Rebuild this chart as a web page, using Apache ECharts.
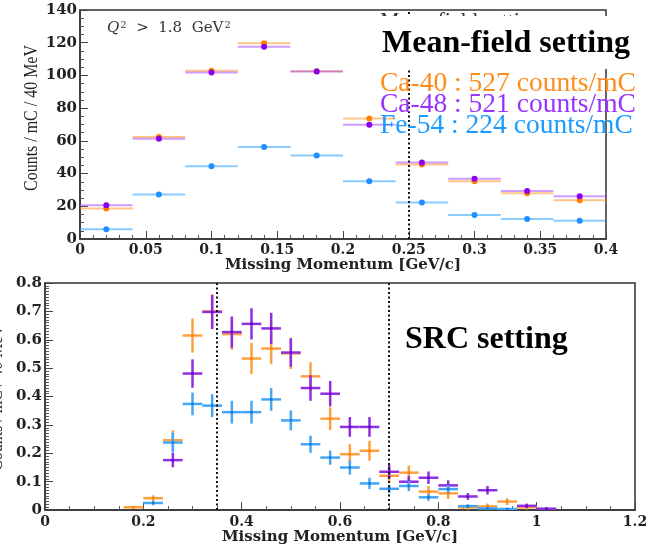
<!DOCTYPE html>
<html><head><meta charset="utf-8">
<script src="https://cdn.jsdelivr.net/npm/echarts@6/dist/echarts.min.js"></script>
<style>html,body{margin:0;padding:0;background:#fff}#c{width:664px;height:546px}</style>
</head><body><div id="c"></div>
<script>
// ---------- DATA ----------
// Mean-field setting (top panel): bin centers [GeV/c], counts / mC / 40 MeV
const topBins   = [0.02, 0.06, 0.10, 0.14, 0.18, 0.22, 0.26, 0.30, 0.34, 0.38];
const topBinHalf = 0.02;
const topCa40 = [18.7, 62.3, 102.9, 119.7, 102.6, 73.6, 45.6, 35.3, 28.0, 23.7];
const topCa48 = [20.7, 61.3, 101.8, 117.5, 102.4, 69.8, 46.7, 36.9, 29.4, 26.2];
const topFe54 = [5.9, 27.2, 44.4, 56.2, 51.1, 35.3, 22.3, 14.6, 12.2, 11.1];
const topCut = 0.25;

// SRC setting (bottom panel)
const botBins = [0.18, 0.22, 0.26, 0.30, 0.34, 0.38, 0.42, 0.46, 0.50, 0.54, 0.58,
                 0.62, 0.66, 0.70, 0.74, 0.78, 0.82, 0.86, 0.90, 0.94, 0.98, 1.02];
const botBinHalf = 0.02;
const botCa40    = [0.010, 0.042, 0.246, 0.615, 0.700, 0.620, 0.534, 0.569, 0.552, 0.471, 0.322,
                    0.197, 0.209, 0.121, 0.132, 0.065, 0.059, 0.010, 0.013, 0.030, 0.010, null];
const botCa40Err = [0.005, 0.010, 0.035, 0.060, 0.060, 0.055, 0.055, 0.055, 0.055, 0.050, 0.040,
                    0.035, 0.035, 0.025, 0.025, 0.020, 0.020, 0.008, 0.010, 0.012, 0.008, null];
const botCa48    = [null, null, 0.176, 0.481, 0.698, 0.627, 0.656, 0.640, 0.555, 0.430, 0.410,
                    0.293, 0.293, 0.135, 0.100, 0.114, 0.087, 0.048, 0.070, null, 0.015, 0.005];
const botCa48Err = [null, null, 0.025, 0.050, 0.060, 0.055, 0.055, 0.055, 0.050, 0.045, 0.045,
                    0.035, 0.035, 0.025, 0.020, 0.022, 0.018, 0.012, 0.015, null, 0.008, 0.005];
const botFe54    = [null, 0.025, 0.238, 0.374, 0.368, 0.345, 0.345, 0.390, 0.316, 0.232, 0.185,
                    0.150, 0.094, 0.075, 0.085, 0.045, 0.074, 0.014, 0.006, 0.004, null, null];
const botFe54Err = [null, 0.008, 0.035, 0.040, 0.040, 0.040, 0.040, 0.040, 0.035, 0.030, 0.025,
                    0.025, 0.020, 0.015, 0.018, 0.012, 0.015, 0.006, 0.005, 0.004, null, null];
const botCuts = [0.35, 0.70];

const legendLines = ['Ca-40 : 527 counts/mC', 'Ca-48 : 521 counts/mC', 'Fe-54 : 224 counts/mC'];

// ---------- STYLE ----------
const C = {
  ca40: '#ff8c1a', ca48: '#9933ff', fe54: '#1a9bff',
  ca40Bar: 'rgba(255,150,40,0.55)', ca48Bar: 'rgba(160,60,255,0.5)', fe54Bar: 'rgba(40,160,255,0.55)',
  ca40X: '#ffa040', ca48X: '#8e2fe0', fe54X: '#44a6f5',
  ca40Dot: '#ff8000', ca48Dot: '#8a00f0', fe54Dot: '#1e90ff'
};
const numFont = 'DejaVu Serif';

function build(bins, vals, errs, half) {
  const out = [];
  for (let i = 0; i < bins.length; i++) {
    if (vals[i] == null) continue;
    out.push([bins[i], vals[i], half, errs ? errs[i] : 0]);
  }
  return out;
}

function crossRender(color, width, dotColor, dotR) {
  return function (params, api) {
    const x = api.value(0), y = api.value(1), hw = api.value(2), e = api.value(3);
    const l = api.coord([x - hw, y]), r = api.coord([x + hw, y]);
    const children = [{
      type: 'line', shape: { x1: l[0], y1: l[1], x2: r[0], y2: r[1] },
      style: { stroke: color, lineWidth: width }
    }];
    if (e > 0) {
      const t = api.coord([x, y + e]), b = api.coord([x, y - e]);
      children.push({ type: 'line', shape: { x1: t[0], y1: t[1], x2: b[0], y2: b[1] },
        style: { stroke: color, lineWidth: width } });
    }
    if (dotR) {
      const c = api.coord([x, y]);
      children.push({ type: 'circle', shape: { cx: c[0], cy: c[1], r: dotR }, style: { fill: dotColor } });
    }
    return { type: 'group', children };
  };
}

function errSeries(name, gi, data, color, width, dotColor, dotR, z) {
  return {
    name, type: 'custom', xAxisIndex: gi, yAxisIndex: gi, z: z || 2,
    renderItem: crossRender(color, width, dotColor, dotR),
    encode: { x: 0, y: 1 }, data, silent: true, animation: false, clip: true
  };
}
function dotSeries(name, gi, bins, vals, color, z) {
  return {
    name, type: 'scatter', xAxisIndex: gi, yAxisIndex: gi, z: z || 3,
    symbol: 'circle', symbolSize: 6, itemStyle: { color, opacity: 1 },
    data: bins.map((b, i) => [b, vals[i]]), silent: true, animation: false
  };
}

const axisCommon = {
  axisLine: { show: true, onZero: false, lineStyle: { color: '#333', width: 1.5 } },
  axisTick: { show: true, inside: true, length: 8, lineStyle: { color: '#444', width: 1 } },
  minorTick: { show: true, length: 4, lineStyle: { color: '#555', width: 1 } },
  splitLine: { show: false }, minorSplitLine: { show: false }
};
function fmt(d) { return v => (Math.abs(v) < 1e-9 ? '0' : (+v.toFixed(d)).toString()); }

const option = {
  backgroundColor: '#fff',
  animation: false,
  grid: [
    { left: 80, top: 10, width: 526, height: 229, show: true, borderColor: '#333', borderWidth: 1.5 },
    { left: 45, top: 283, width: 590, height: 229, show: true, borderColor: '#333', borderWidth: 1.5 }
  ],
  xAxis: [
    Object.assign({}, axisCommon, {
      type: 'value', gridIndex: 0, min: 0, max: 0.4, interval: 0.05,
      minorTick: Object.assign({}, axisCommon.minorTick, { splitNumber: 5 }),
      axisLabel: { formatter: fmt(2), fontFamily: numFont, fontWeight: 'bold', fontSize: 14, color: '#222', margin: 4, showMinLabel: true, showMaxLabel: true },
      name: 'Missing Momentum [GeV/c]', nameLocation: 'middle', nameGap: 14,
      nameTextStyle: { fontFamily: numFont, fontWeight: 'bold', fontSize: 15, color: '#222', verticalAlign: 'top' }
    }),
    Object.assign({}, axisCommon, {
      type: 'value', gridIndex: 1, min: 0, max: 1.2, interval: 0.2,
      minorTick: Object.assign({}, axisCommon.minorTick, { splitNumber: 4 }),
      axisLabel: { formatter: fmt(1), fontFamily: numFont, fontWeight: 'bold', fontSize: 14, color: '#222', margin: 5, showMinLabel: true, showMaxLabel: true },
      name: 'Missing Momentum [GeV/c]', nameLocation: 'middle', nameGap: 18,
      nameTextStyle: { fontFamily: numFont, fontWeight: 'bold', fontSize: 15, color: '#222', verticalAlign: 'top' }
    })
  ],
  yAxis: [
    Object.assign({}, axisCommon, {
      type: 'value', gridIndex: 0, min: 0, max: 140, interval: 20,
      minorTick: Object.assign({}, axisCommon.minorTick, { splitNumber: 4 }),
      axisLabel: { formatter: fmt(0), fontFamily: numFont, fontWeight: 'bold', fontSize: 15, color: '#222', margin: 3, showMinLabel: true, showMaxLabel: true }
    }),
    Object.assign({}, axisCommon, {
      type: 'value', gridIndex: 1, min: 0, max: 0.8, interval: 0.1,
      minorTick: Object.assign({}, axisCommon.minorTick, { splitNumber: 10 }),
      axisLabel: { formatter: fmt(1), fontFamily: numFont, fontWeight: 'bold', fontSize: 15, color: '#222', margin: 3, showMinLabel: true, showMaxLabel: true }
    })
  ],
  series: [
    // top panel
    Object.assign(errSeries('Ca-40 MF', 0, build(topBins, topCa40, null, topBinHalf), C.ca40Bar, 2, null, 0, 2), {
      markLine: { silent: true, symbol: 'none', label: { show: false }, animation: false,
        lineStyle: { color: '#111', width: 2, type: [2, 2.5] }, data: [{ xAxis: topCut }] }
    }),
    errSeries('Ca-48 MF', 0, build(topBins, topCa48, null, topBinHalf), C.ca48Bar, 2, null, 0, 2),
    errSeries('Fe-54 MF', 0, build(topBins, topFe54, null, topBinHalf), C.fe54Bar, 2, null, 0, 2),
    dotSeries('Ca-40 MF dot', 0, topBins, topCa40, C.ca40Dot, 3),
    dotSeries('Ca-48 MF dot', 0, topBins, topCa48, C.ca48Dot, 4),
    dotSeries('Fe-54 MF dot', 0, topBins, topFe54, C.fe54Dot, 4),
    // bottom panel
    Object.assign(errSeries('Ca-40 SRC', 1, build(botBins, botCa40, botCa40Err, botBinHalf), C.ca40X, 2.5, C.ca40Dot, 1.3, 2), {
      markLine: { silent: true, symbol: 'none', label: { show: false }, animation: false,
        lineStyle: { color: '#111', width: 2, type: [2, 2.5] }, data: botCuts.map(v => ({ xAxis: v })) }
    }),
    errSeries('Ca-48 SRC', 1, build(botBins, botCa48, botCa48Err, botBinHalf), C.ca48X, 2.5, '#6a00c0', 1.3, 3),
    errSeries('Fe-54 SRC', 1, build(botBins, botFe54, botFe54Err, botBinHalf), C.fe54X, 2.5, '#1478d8', 1.3, 4)
  ],
  graphic: [
    { type: 'text', x: 32, y: 118, rotation: Math.PI / 2, scaleX: 0.84, z: 50,
      style: { text: 'Counts / mC / 40 MeV', font: '19px "Liberation Serif"', fill: '#222', align: 'center', verticalAlign: 'middle' } },
    { type: 'text', x: -3, y: 398, rotation: Math.PI / 2, scaleX: 0.84, z: 50,
      style: { text: 'Counts / mC / 40 MeV', font: '19px "Liberation Serif"', fill: '#222', align: 'center', verticalAlign: 'middle' } },
    { type: 'text', x: 107, y: 28, z: 50,
      style: { text: '{q|Q}{s|2}  >  1.8  GeV{s|2}', font: '15px "DejaVu Serif"', fill: '#333', verticalAlign: 'middle',
        rich: { q: { fontFamily: 'DejaVu Serif', fontStyle: 'italic', fontSize: 15, fill: '#333' },
                s: { fontFamily: 'DejaVu Serif', fontSize: 10, verticalAlign: 'top', padding: [0, 0, 6, 1], fill: '#333' } } } },
    // partially hidden text behind the white box
    { type: 'text', x: 380, y: 10, z: 60,
      style: { text: 'Mean-field setting', font: '22px "Liberation Serif"', fill: '#333', verticalAlign: 'top' } },
    { type: 'rect', z: 61, shape: { x: 376, y: 16, width: 272, height: 53 }, style: { fill: '#fff' } },
    { type: 'text', x: 382, y: 44, z: 70,
      style: { text: 'Mean-field setting', font: 'bold 32px "Liberation Serif"', fill: '#000', verticalAlign: 'middle' } },
    { type: 'text', x: 380, y: 84, z: 70,
      style: { text: legendLines[0], font: '27.5px "Liberation Serif"', fill: C.ca40, verticalAlign: 'middle' } },
    { type: 'text', x: 380, y: 105, z: 70,
      style: { text: legendLines[1], font: '27.5px "Liberation Serif"', fill: C.ca48, verticalAlign: 'middle' } },
    { type: 'text', x: 380, y: 126, z: 70,
      style: { text: legendLines[2], font: '27.5px "Liberation Serif"', fill: C.fe54, verticalAlign: 'middle' } },
    { type: 'text', x: 405, y: 340, z: 70,
      style: { text: 'SRC setting', font: 'bold 32px "Liberation Serif"', fill: '#000', verticalAlign: 'middle' } }
  ]
};
const chart = echarts.init(document.getElementById('c'), null, { renderer: 'canvas' });
chart.setOption(option);
</script></body></html>
